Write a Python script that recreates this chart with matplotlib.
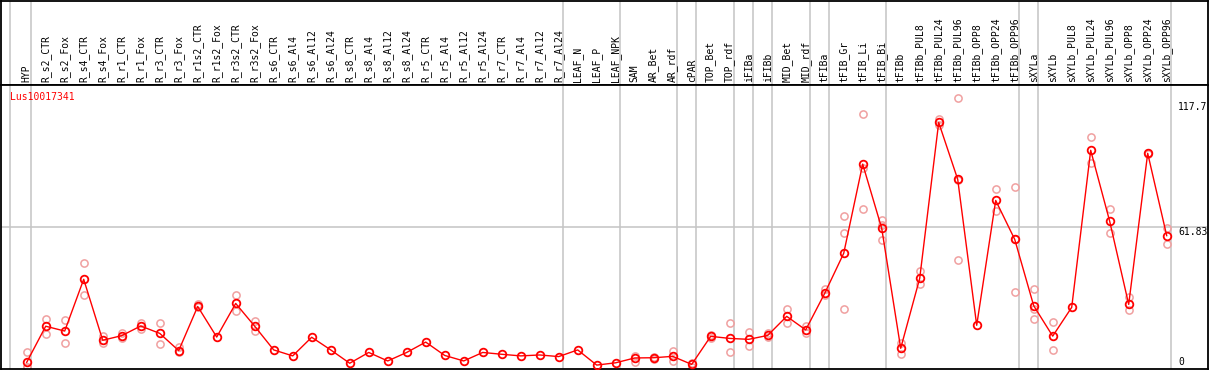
import matplotlib
matplotlib.use("Agg")
import matplotlib.pyplot as plt
from matplotlib.transforms import blended_transform_factory

# ── data ──────────────────────────────────────────────────────────────────────
gene = "Lus10017341"

samples = [
    "HYP", "R_s2_CTR", "R_s2_Fox", "R_s4_CTR", "R_s4_Fox", "R_r1_CTR", "R_r1_Fox",
    "R_r3_CTR", "R_r3_Fox", "R_r1s2_CTR", "R_r1s2_Fox", "R_r3s2_CTR", "R_r3s2_Fox",
    "R_s6_CTR", "R_s6_Al4", "R_s6_Al12", "R_s6_Al24", "R_s8_CTR", "R_s8_Al4",
    "R_s8_Al12", "R_s8_Al24", "R_r5_CTR", "R_r5_Al4", "R_r5_Al12", "R_r5_Al24",
    "R_r7_CTR", "R_r7_Al4", "R_r7_Al12", "R_r7_Al24", "LEAF_N", "LEAF_P", "LEAF_NPK",
    "SAM", "AR_Bet", "AR_rdf", "cPAR", "TOP_Bet", "TOP_rdf", "iFIBa", "iFIBb",
    "MID_Bet", "MID_rdf", "tFIBa", "tFIB_Gr", "tFIB_Li", "tFIB_Bi", "tFIBb",
    "tFIBb_PUL8", "tFIBb_PUL24", "tFIBb_PUL96", "tFIBb_OPP8", "tFIBb_OPP24",
    "tFIBb_OPP96", "sXYLa", "sXYLb", "sXYLb_PUL8", "sXYLb_PUL24", "sXYLb_PUL96",
    "sXYLb_OPP8", "sXYLb_OPP24", "sXYLb_OPP96",
]

means = [
    2.9, 18.6, 16.5, 39.0, 12.5, 14.5, 18.7, 15.5, 8.0, 27.2, 13.9, 28.5, 18.6,
    8.3, 5.7, 13.8, 8.3, 2.5, 7.2, 3.5, 7.2, 11.7, 5.9, 3.5, 7.2, 6.4, 5.7, 6.1,
    5.4, 8.3, 1.7, 2.7, 4.8, 4.9, 5.5, 2.0, 14.2, 13.3, 12.9, 14.6, 22.9, 17.0,
    32.9, 50.3, 89.1, 61.2, 9.0, 39.4, 107.2, 82.5, 19.0, 73.3, 56.4, 27.5, 14.3,
    26.8, 95.1, 64.2, 28.1, 93.8, 58.0,
]

replicates = [
    [7.2, 0.7, 0.8], [21.6, 15.1], [21.2, 11.2], [45.9, 32.0], [14.3, 11.2],
    [15.7, 13.6], [19.8, 17.5], [20.1, 10.7], [9.7, 7.4], [28.3, 26.8], [],
    [32.0, 25.4], [21.0, 16.5], [], [], [], [], [], [], [], [], [], [], [], [],
    [], [], [], [], [], [], [], [5.7, 3.2], [5.4, 4.4], [8.0, 3.3], [1.0, 2.6],
    [13.3, 14.8], [20.0, 7.3], [16.1, 9.9], [15.7, 13.8], [25.9, 19.9],
    [18.7, 15.5], [34.7, 32.0], [66.4, 59.0, 25.9], [110.7, 69.4, 87.3],
    [65.0, 55.9, 62.7], [11.2, 6.5], [42.5, 37.0], [108.7, 105.9],
    [117.7, 47.6, 82.2], [], [78.1, 68.5], [79.0, 33.7, 56.5],
    [34.7, 26.2, 21.6], [20.3, 8.1], [], [100.7, 89.4], [69.4, 59.0],
    [31.2, 25.7], [94.1, 93.5], [61.3, 54.2],
]

# group separators sit just after these sample indices
group_ends = [-1.08, 0, 28, 31, 34, 35, 37, 38, 39, 41, 42, 45, 52, 53, 60]

y_max = 117.7
y_mid = 61.83

# ── figure ────────────────────────────────────────────────────────────────────
W, H = 1209, 370
fig = plt.figure(figsize=(W / 100, H / 100), dpi=100)

x_lo = (1 - 26.7) / 19
x_hi = (1208 - 26.7) / 19
mono = "DejaVu Sans Mono"
grey = "#c4c4c4"
red = "#ff0000"
pink = "#f0a0a0"

ax_h = fig.add_axes([1 / W, (H - 85) / H, 1207 / W, 84 / H])
ax = fig.add_axes([1 / W, 1 / H, 1207 / W, 284 / H])

for a in (ax_h, ax):
    a.set_xlim(x_lo, x_hi)
    a.set_xticks([])
    a.set_yticks([])
    for s in a.spines.values():
        s.set_linewidth(1.3)
        s.set_color("black")
    for g in group_ends:
        a.axvline(g + 0.2, color=grey, lw=1.1, zorder=0)

ax_h.set_ylim(0, 1)
for i, name in enumerate(samples):
    ax_h.text(i, 0.03, name, rotation=90, ha="center", va="bottom",
              fontsize=7, family=mono, color="black")

ax.set_ylim(0, 123.5)
ax.axhline(y_mid, color=grey, lw=1.1, zorder=0)

# replicate points
for i, reps in enumerate(replicates):
    if reps:
        ax.plot([i] * len(reps), reps, linestyle="none", marker="o",
                markersize=5.2, markerfacecolor="none", markeredgecolor=pink,
                markeredgewidth=1.1, zorder=2, clip_on=False)

# mean line + points
xs = list(range(len(samples)))
ax.plot(xs, means, color=red, lw=1.0, zorder=3)
ax.plot(xs, means, linestyle="none", marker="o", markersize=5.5,
        markerfacecolor="none", markeredgecolor=red, markeredgewidth=1.3,
        zorder=4, clip_on=False)

ax.text(9 / 1207, 1 - 12 / 284, gene, transform=ax.transAxes, ha="left",
        va="center", fontsize=7, family=mono, color=red)

# scale labels on the right
trans = blended_transform_factory(ax.transAxes, ax.transData)
lx = 1177 / 1207
for val, txt, dy in [(y_max, "117.7", -8.7), (y_mid, "61.83", -5), (0, "0", 7)]:
    ax.annotate(txt, xy=(lx, val), xycoords=trans, xytext=(0, dy * 0.72),
                textcoords="offset points", ha="left", va="center",
                fontsize=7, family=mono, color="black")

fig.savefig("out.png", dpi=100, facecolor="white")
